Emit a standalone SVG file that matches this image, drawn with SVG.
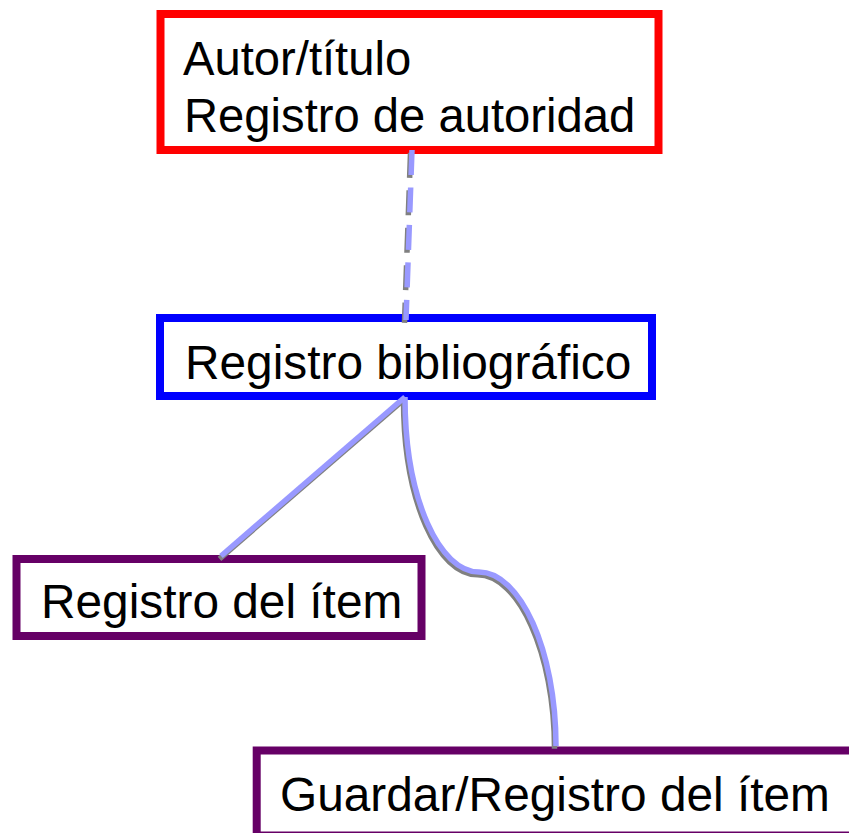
<svg xmlns="http://www.w3.org/2000/svg" width="849" height="833" viewBox="0 0 849 833">
<style>
.box{fill:#ffffff;stroke-width:8}
.lbl{font-family:"Liberation Sans",Arial,sans-serif;font-size:47.8px;fill:#000000}
.lbl2{font-size:47.2px}
.sh{fill:none;stroke:#808080;stroke-width:5.5}
.ln{fill:none;stroke:#9999ff;stroke-width:5.5}
.dash{stroke-dasharray:25 12.5}
</style>
<rect width="849" height="833" fill="#ffffff"/>
<g id="autoridad">
<rect class="box" x="160.5" y="14" width="498" height="136" stroke="#ff0000"/>
<text class="lbl lbl2" x="183" y="75">Autor/título</text>
<text class="lbl lbl2" x="184" y="131.5">Registro de autoridad</text>
</g>
<g id="bibliografico">
<rect class="box" x="160" y="318" width="492" height="78" stroke="#0000ff"/>
<text class="lbl" x="185" y="379">Registro bibliográfico</text>
</g>
<g id="item">
<rect class="box" x="16.5" y="559" width="405" height="77" stroke="#660066"/>
<text class="lbl" x="41" y="618">Registro del ítem</text>
</g>
<g id="guardar">
<rect class="box" x="256.7" y="750.5" width="620" height="85" stroke="#660066"/>
<text class="lbl" x="280" y="810.5">Guardar/Registro del ítem</text>
</g>
<g id="connectors">
<g transform="translate(-1.5,2.8)">
<path class="sh dash" d="M412,150 L406,320"/>
<path class="sh" d="M405,397 L221,556"/>
<path class="sh" d="M405,397 C405,500 440,572 479,572 C520,572 556,650 556,746"/>
</g>
<path class="ln dash" d="M412,150 L406,320"/>
<path class="ln" d="M405,397 L221,556"/>
<path class="ln" d="M405,397 C405,500 440,572 479,572 C520,572 556,650 556,746"/>
</g>
</svg>
